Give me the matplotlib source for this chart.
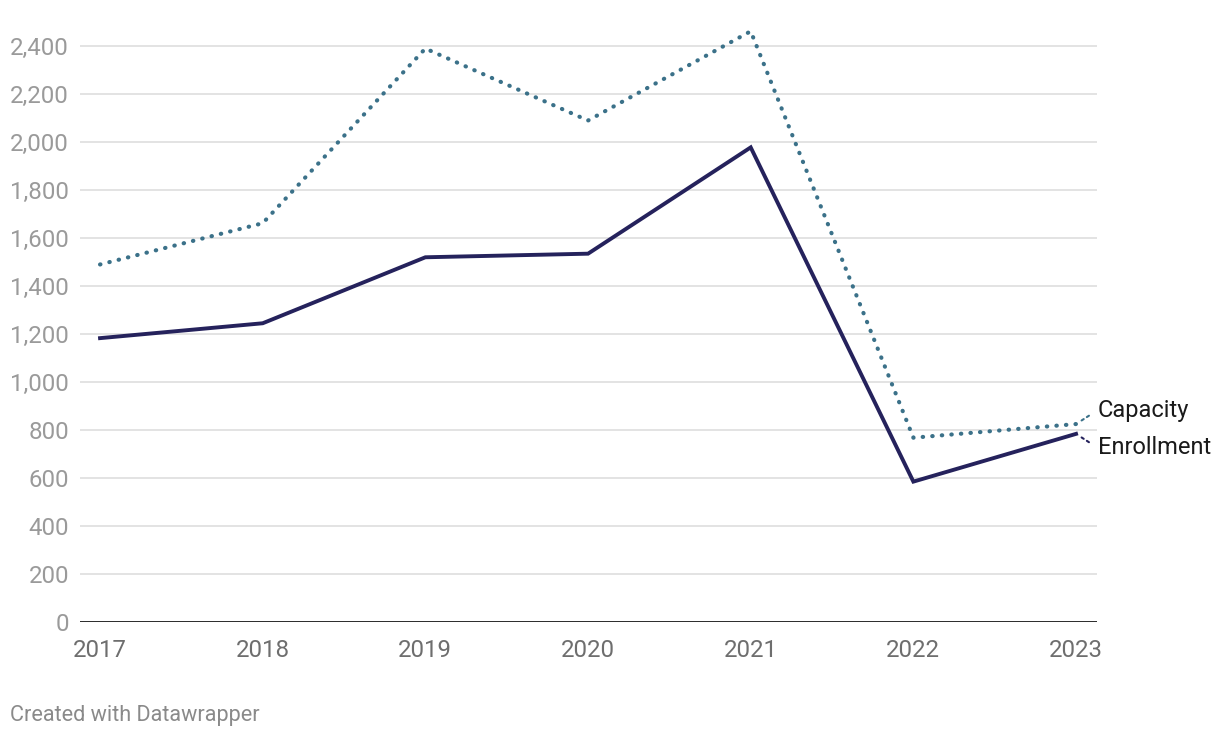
import matplotlib
matplotlib.use("Agg")
import matplotlib.pyplot as plt

plt.rcParams["font.family"] = ["Roboto", "DejaVu Sans"]

years = [2017, 2018, 2019, 2020, 2021, 2022, 2023]
capacity = [1490, 1662, 2390, 2090, 2462, 768, 825]
enrollment = [1183, 1245, 1520, 1535, 1978, 585, 784]
yticks = list(range(0, 2401, 200))

navy = "#25225c"
teal = "#3b7189"

fig = plt.figure(figsize=(12.2, 7.38), dpi=100)
ax = fig.add_axes([0.0656, 0.1572, 0.8336, 0.8128])

ax.plot(years, capacity, color=teal, lw=3.0, linestyle=(0, (0.1, 2.2)),
        dash_capstyle="round", zorder=3)
ax.plot(years, enrollment, color=navy, lw=2.8, solid_joinstyle="miter", zorder=4)

ax.set_xlim(2016.877, 2023.129)
ax.set_ylim(0, 2500)

ax.set_yticks(yticks)
ax.set_yticklabels([f"{v:,}" for v in yticks])
ax.set_xticks(years)
ax.set_xticklabels([str(y) for y in years])

ax.grid(axis="y", color="#e3e3e3", lw=1.4, zorder=0)
ax.axhline(0, color="#1a1a1a", lw=2, zorder=5)
for s in ax.spines.values():
    s.set_visible(False)

ax.tick_params(axis="y", length=0, pad=8, labelsize=17.3, labelcolor="#9a9a9a")
ax.tick_params(axis="x", length=0, pad=12, labelsize=17.3, labelcolor="#6e6e6e")

# end labels with short dotted connectors
ax.annotate("Capacity", xy=(years[-1], capacity[-1]), xytext=(15.5, 10),
            textcoords="offset points", fontsize=17, color="#1a1a1a",
            va="center", ha="left", annotation_clip=False,
            arrowprops=dict(arrowstyle="-", color=teal, lw=1.5,
                            linestyle=(0, (1.2, 1.8)), relpos=(0, 0.5),
                            shrinkA=5, shrinkB=3))
ax.annotate("Enrollment", xy=(years[-1], enrollment[-1]), xytext=(15.5, -10),
            textcoords="offset points", fontsize=17, color="#1a1a1a",
            va="center", ha="left", annotation_clip=False,
            arrowprops=dict(arrowstyle="-", color=navy, lw=1.5,
                            linestyle=(0, (1.2, 1.8)), relpos=(0, 0.5),
                            shrinkA=5, shrinkB=3))

fig.text(0.0082, 0.031, "Created with Datawrapper", fontsize=15.6,
         color="#8a8a8a", ha="left", va="center")

fig.savefig("out.png", dpi=100)
